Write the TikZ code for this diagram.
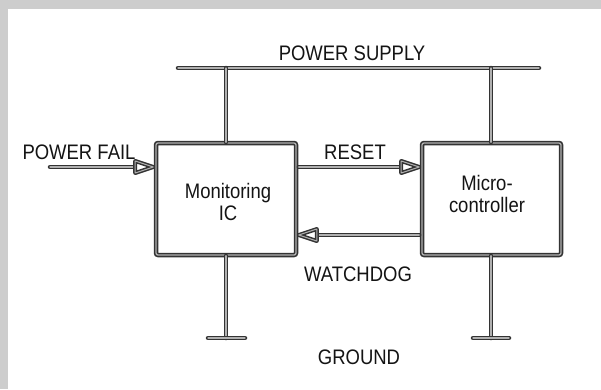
\documentclass[tikz,border=0pt]{standalone}
\usepackage{fontspec}
\setmainfont{Liberation Sans}[FakeStretch=0.88]
\usetikzlibrary{arrows.meta}
\definecolor{framegray}{HTML}{CDCDCD}
\definecolor{ink}{HTML}{333333}
\definecolor{core}{HTML}{B0B0B0}
\definecolor{txt}{HTML}{141414}
\newcommand\lblfont{\fontsize{21}{22}\selectfont}
\begin{document}
\begin{tikzpicture}[x=1pt,y=-1pt,
  wire/.style={draw=ink, line width=1.6pt, double=core, double distance=1.3pt, line cap=round},
  box/.style={wire, rounded corners=2pt, fill=white, minimum width=140pt, minimum height=112pt, inner sep=0pt, align=center, font=\lblfont, text=txt},
  lbl/.style={font=\lblfont, text=txt, inner sep=0pt, anchor=base},
  shaft/.style={wire, shorten >=16pt},
  headtri/.style={draw=ink, line width=1.5pt, double=core, double distance=1pt, line join=round, fill=white}]
\fill[framegray] (0,0) rectangle (601,389);
\fill[white] (8,9) rectangle (601,389);
\useasboundingbox (0,0) rectangle (601,389);

% boxes
\node[box] (mon) at (226,199) {};
\node[box, minimum width=139pt] (mcu) at (491.5,199) {};
\node[lbl, align=center, anchor=center] (montxt) at (228,202) {Monitoring\\IC};
\node[lbl, align=center, anchor=center] (mcutxt) at (487,194) {Micro-\\controller};

% power supply bar
\coordinate (psl) at (178,68);
\coordinate (psr) at (539,68);
\draw[wire] (psl) -- (psr);
\draw[wire] (mon.north) -- (mon.north |- psl);
\draw[wire] ([xshift=-0.5pt]mcu.north) -- ([xshift=-0.5pt]mcu.north |- psl);
\node[lbl] (pslbl) at (352,60) {POWER SUPPLY};

% ground
\coordinate (gl) at (226,338);
\coordinate (gr) at (491,338);
\draw[wire] (mon.south) -- (gl);
\draw[wire] ([xshift=-0.5pt]mcu.south) -- (gr);
\draw[wire] ([xshift=-18pt]gl) -- ([xshift=19pt]gl);
\draw[wire] ([xshift=-18pt]gr) -- ([xshift=18pt]gr);
\node[lbl] (gndlbl) at (359,364) {GROUND};

% power fail
\coordinate (pfs) at (50,167);
\coordinate (pfe) at ([xshift=-2pt]mon.west |- pfs);
\draw[shaft] (pfs) -- (pfe);
\draw[headtri] (pfe) -- ++(-18,-6) -- ++(0,12) -- cycle;
\node[lbl] (pflbl) at (79,159) {POWER FAIL};

% reset
\coordinate (rs) at ([xshift=2pt]mon.east |- 0,167);
\coordinate (re) at ([xshift=-2pt]mcu.west |- rs);
\draw[shaft] (rs) -- (re);
\draw[headtri] (re) -- ++(-18,-6) -- ++(0,12) -- cycle;
\node[lbl] (rslbl) at (355,159) {RESET};

% watchdog
\coordinate (ws) at ([xshift=-2pt]mcu.west |- 0,235);
\coordinate (we) at ([xshift=2pt]mon.east |- ws);
\draw[shaft] (ws) -- (we);
\draw[headtri] (we) -- ++(18,-6) -- ++(0,12) -- cycle;
\node[lbl] (wdlbl) at (358,281) {WATCHDOG};
\end{tikzpicture}
\end{document}
